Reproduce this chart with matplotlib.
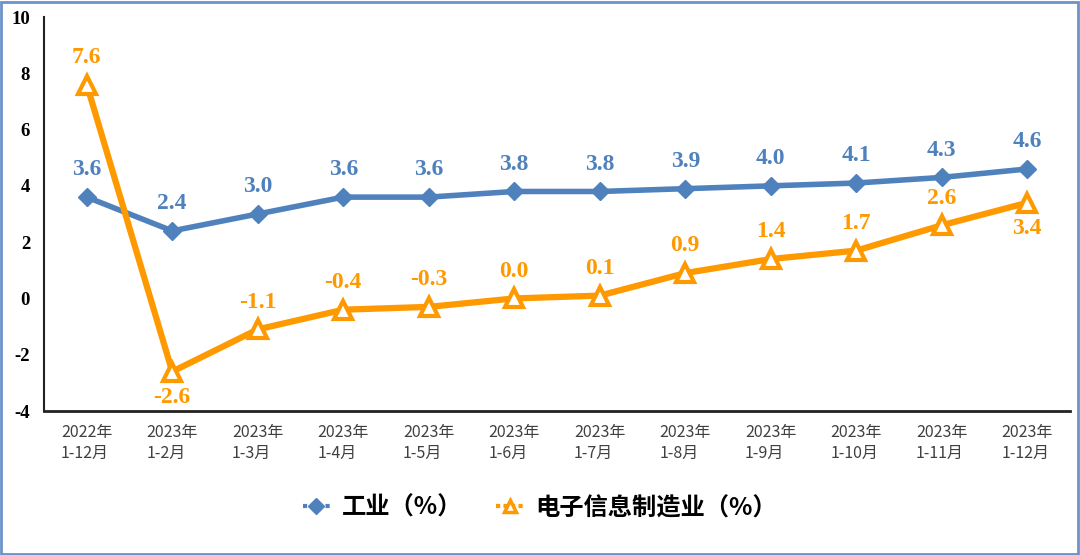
import matplotlib
matplotlib.use("Agg")
import matplotlib.pyplot as plt
from matplotlib.patches import Rectangle
import numpy as np

categories = ["2022年\n1-12月", "2023年\n1-2月", "2023年\n1-3月", "2023年\n1-4月", "2023年\n1-5月",
              "2023年\n1-6月", "2023年\n1-7月", "2023年\n1-8月", "2023年\n1-9月", "2023年\n1-10月",
              "2023年\n1-11月", "2023年\n1-12月"]
industry = [3.6, 2.4, 3.0, 3.6, 3.6, 3.8, 3.8, 3.9, 4.0, 4.1, 4.3, 4.6]
electronics = [7.6, -2.6, -1.1, -0.4, -0.3, 0.0, 0.1, 0.9, 1.4, 1.7, 2.6, 3.4]
series_names = ["工业（%）", "电子信息制造业（%）"]
yticks = [-4, -2, 0, 2, 4, 6, 8, 10]

blue = "#4f81bd"
orange = "#ff9900"
cjk = ["Noto Sans CJK SC", "DejaVu Sans"]
serif = ["Liberation Serif", "DejaVu Serif"]

fig = plt.figure(figsize=(10.8, 5.55), dpi=100)
ax = fig.add_axes([44/1080, 1-411/555, (1070-44)/1080, (411-17)/555])

x = np.arange(len(categories))
l1, = ax.plot(x, industry, color=blue, lw=4, marker="D", ms=9, mfc=blue, mec=blue, zorder=3)
l2, = ax.plot(x, electronics, color=orange, lw=4.5, marker="^", ms=13, mfc="white", mec=orange, mew=3, zorder=4)

for xi, v in zip(x, industry):
    ax.annotate(f"{v:.1f}", (xi, v), xytext=(0, 12), textcoords="offset points", ha="center", va="bottom",
                color=blue, fontsize=17, fontweight="bold", family=serif)
below = {1, 11}
for i, (xi, v) in enumerate(zip(x, electronics)):
    if i in below:
        ax.annotate(f"{v:.1f}", (xi, v), xytext=(0, -11), textcoords="offset points", ha="center", va="top",
                    color=orange, fontsize=17, fontweight="bold", family=serif)
    else:
        ax.annotate(f"{v:.1f}", (xi, v), xytext=(0, 12), textcoords="offset points", ha="center", va="bottom",
                    color=orange, fontsize=17, fontweight="bold", family=serif)

ax.set_xlim(-0.5, len(categories) - 0.5)
ax.set_ylim(-4, 10)
ax.set_yticks(yticks)
ax.set_yticklabels([str(t) for t in yticks], family=serif, fontweight="bold", fontsize=13.5)
ax.set_xticks(x)
ax.set_xticklabels(categories, family=cjk, fontsize=11.5, color="#404040", linespacing=1.35)
for lab in ax.get_xticklabels():
    lab.set_multialignment("left")
ax.tick_params(axis="y", length=0, pad=10)
ax.tick_params(axis="x", length=0, pad=9)
for s in ["top", "right"]:
    ax.spines[s].set_visible(False)
ax.spines["left"].set_linewidth(1.5)
ax.spines["bottom"].set_linewidth(2)
ax.spines["left"].set_color("#222222")
ax.spines["bottom"].set_color("#222222")

leg = fig.legend([l1, l2], series_names, loc="center", bbox_to_anchor=(0.5, 1-508/555), ncol=2, frameon=False,
                 prop={"family": cjk, "size": 17.5, "weight": "bold"}, handlelength=1.1, columnspacing=1.4,
                 handletextpad=0.5)
for h in leg.legend_handles:
    h.set_linestyle((0, (1.0, 0.8)))
    h.set_linewidth(3)
leg.legend_handles[0].set_markersize(8)
leg.legend_handles[1].set_markersize(9)
leg.legend_handles[1].set_markeredgewidth(2.5)

fig.patches.append(Rectangle((1/1080, 1/555), 1077/1080, 552/555, transform=fig.transFigure,
                             fill=False, edgecolor="#6b93c9", lw=2))

fig.savefig("out.png", dpi=100)
